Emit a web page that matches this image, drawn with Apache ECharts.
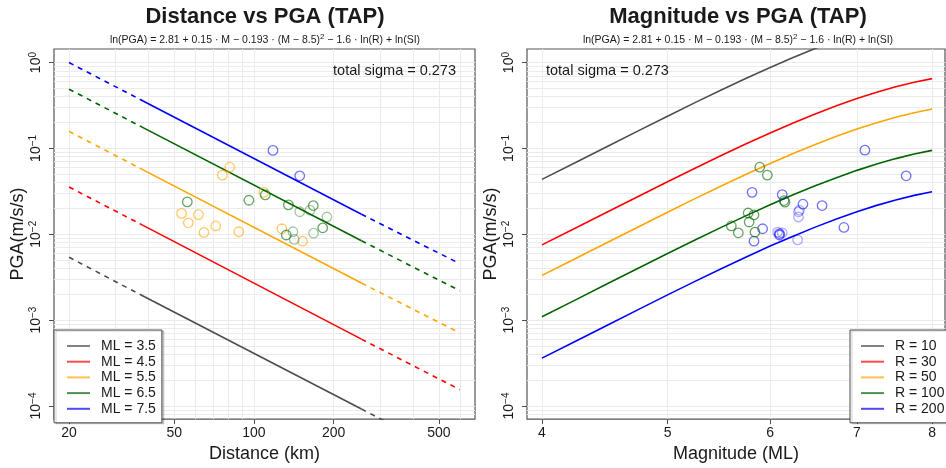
<!DOCTYPE html>
<html>
<head>
<meta charset="utf-8">
<script src="https://cdn.jsdelivr.net/npm/echarts@6/dist/echarts.min.js"></script>
<style>html,body{margin:0;background:#fff}#c{width:946px;height:468px}</style>
</head>
<body>
<div id="c"></div>
<script>
// --- left panel: PGA vs distance, one line per magnitude ---
const DIST_PTS = [20, 37, 255, 600] // dashed 20-37, solid 37-255, dashed 255-600
const ML_NAMES = ['ML = 3.5', 'ML = 4.5', 'ML = 5.5', 'ML = 6.5', 'ML = 7.5']
const PGA_ML35 = [0.0054, 0.0020, 0.000092, 0.0000236]
const PGA_ML45 = [0.0355, 0.0133, 0.00060, 0.000155]
const PGA_ML55 = [0.158, 0.059, 0.0027, 0.00071]
const PGA_ML65 = [0.49, 0.183, 0.0084, 0.0022]
const PGA_ML75 = [1.0, 0.374, 0.0171, 0.00455]

const OBS_ORANGE = [[81, 0.0604], [76, 0.0488], [109, 0.0308], [53.3, 0.0175], [61.7, 0.0169], [56.5, 0.0136],
  [71.7, 0.0125], [64.7, 0.0105], [87.7, 0.0107], [127.5, 0.0116], [152.7, 0.0083]]
const OBS_GREEN = [[56, 0.0238], [110.4, 0.0287], [135, 0.022], [167.6, 0.0216], [182, 0.0119], [132.5, 0.0098], [95.7, 0.0249]]
const OBS_GREEN_LT = [[149, 0.0183], [163, 0.0191], [188.7, 0.0159], [140.4, 0.0107], [168, 0.0103], [142, 0.0087]]
const OBS_BLUE = [[118, 0.0948], [149, 0.048]]

// --- right panel: PGA vs magnitude, one curve per distance ---
const MAG = [4, 4.25, 4.5, 4.75, 5, 5.25, 5.5, 5.75, 6, 6.25, 6.5, 6.75, 7, 7.25, 7.5, 7.75, 8]
const R_NAMES = ['R = 10', 'R = 30', 'R = 50', 'R = 100', 'R = 200']
const PGA_R10 = [0.0436, 0.069, 0.1067, 0.1611, 0.2374, 0.3413, 0.479, 0.656, 0.878, 1.146, 1.461, 1.817, 2.21, 2.62, 3.03, 3.42, 3.77]
const PGA_R30 = [0.00752, 0.0119, 0.01841, 0.02777, 0.0409, 0.0588, 0.0826, 0.1131, 0.1514, 0.1975, 0.2518, 0.3132, 0.3806, 0.4511, 0.522, 0.59, 0.65]
const PGA_R50 = [0.00332, 0.00526, 0.00813, 0.01226, 0.01808, 0.026, 0.0365, 0.05, 0.0669, 0.0873, 0.1113, 0.1384, 0.1681, 0.1993, 0.2306, 0.2605, 0.2874]
const PGA_R100 = [0.001095, 0.001734, 0.002684, 0.004049, 0.00596, 0.00857, 0.01203, 0.01649, 0.0221, 0.0288, 0.0367, 0.0456, 0.0555, 0.0657, 0.0761, 0.086, 0.0948]
const PGA_R200 = [0.000361, 0.000572, 0.000885, 0.001335, 0.001967, 0.002828, 0.00397, 0.00544, 0.00728, 0.0095, 0.01211, 0.01506, 0.0183, 0.0217, 0.0251, 0.0284, 0.0313]

const OBS_M_BLUE = [[7.10, 0.0955], [7.64, 0.048], [5.81, 0.0308], [6.13, 0.029], [6.36, 0.0224], [6.58, 0.0216],
  [6.84, 0.012], [5.92, 0.0116], [6.10, 0.0102], [6.10, 0.0098], [5.83, 0.0083]]
const OBS_M_BLUE_LT = [[6.32, 0.0191], [6.31, 0.0183], [6.31, 0.0159], [6.08, 0.0106], [6.13, 0.0104], [6.30, 0.0086]]
const OBS_M_GREEN = [[5.89, 0.0604], [5.97, 0.0488], [6.15, 0.0247], [6.16, 0.0237], [5.77, 0.0177], [5.83, 0.0168],
  [5.78, 0.0139], [5.60, 0.0125], [5.67, 0.0104], [5.84, 0.0106]]

// ticks / grid
const DIST_TICKS = [20, 50, 100, 200, 500]
const DIST_GRID = [20, 30, 40, 50, 60, 70, 80, 90, 100, 200, 300, 400, 500, 600]
const MAG_TICKS = [4, 5, 6, 7, 8]
const PGA_TICKS = [1e-4, 1e-3, 1e-2, 1e-1, 1]
const PGA_GRID = []
for (let k = -5; k <= 0; k++) for (let m = 1; m <= 9; m++) PGA_GRID.push(+(m * Math.pow(10, k)).toPrecision(3))

const COLORS = ['#4d4d4d', '#ff0000', '#ffa500', '#006400', '#0000ff']
const FONT = 'Liberation Sans, Arial, sans-serif'
const INK = '#1a1a1a'
const Y_MIN = 7.03e-5, Y_MAX = 1.439

const supFmt = (v) => '10{e|' + String(Math.round(Math.log10(v))).replace('-', '\u2212') + '}'

function mainX(grid, min, max, ticks, name) {
  return {
    type: 'log', gridIndex: grid, min, max, position: 'bottom',
    name, nameLocation: 'middle', nameGap: 21,
    nameTextStyle: { fontSize: 18, color: INK, fontFamily: FONT, verticalAlign: 'top' },
    axisLine: { show: false },
    axisTick: { show: true, length: 5, customValues: ticks, lineStyle: { color: '#4d4d4d' } },
    axisLabel: { customValues: ticks, fontSize: 14, color: INK, fontFamily: FONT, margin: 7, formatter: (v) => String(v) },
    splitLine: { show: false },
  }
}
function gridX(grid, min, max, vals) {
  return {
    type: 'log', gridIndex: grid, min, max, position: 'top',
    axisLine: { show: false }, axisLabel: { show: false },
    axisTick: { show: false, customValues: vals },
    splitLine: { show: true, lineStyle: { color: '#ebebeb', width: 1 } },
  }
}
function mainY(grid) {
  return {
    type: 'log', gridIndex: grid, min: Y_MIN, max: Y_MAX, position: 'left',
    name: 'PGA(m/s/s)', nameLocation: 'middle', nameGap: 25, nameRotate: 90,
    nameTextStyle: { fontSize: 18, color: INK, fontFamily: FONT },
    axisLine: { show: false },
    axisTick: { show: true, length: 5, customValues: PGA_TICKS, lineStyle: { color: '#4d4d4d' } },
    axisLabel: {
      customValues: PGA_TICKS, rotate: 90, margin: 9, fontSize: 14, color: INK, fontFamily: FONT,
      formatter: supFmt, rich: { e: { fontSize: 10, color: INK, fontFamily: FONT, padding: [0, 0, 7, 0] } },
    },
    splitLine: { show: false },
  }
}
function gridY(grid) {
  return {
    type: 'log', gridIndex: grid, min: Y_MIN, max: Y_MAX, position: 'right',
    axisLine: { show: false }, axisLabel: { show: false },
    axisTick: { show: false, customValues: PGA_GRID },
    splitLine: { show: true, lineStyle: { color: '#ebebeb', width: 1 } },
  }
}

const series = []
const mlVals = [PGA_ML35, PGA_ML45, PGA_ML55, PGA_ML65, PGA_ML75]
mlVals.forEach((v, i) => {
  const ls = { color: COLORS[i], width: 1.6 }
  const base = { type: 'line', xAxisIndex: 0, yAxisIndex: 0, showSymbol: false, silent: true, z: 3, color: COLORS[i] }
  series.push({ ...base, name: ML_NAMES[i], data: [[DIST_PTS[1], v[1]], [DIST_PTS[2], v[2]]], lineStyle: ls })
  series.push({ ...base, name: ML_NAMES[i] + ' a', data: [[DIST_PTS[0], v[0]], [DIST_PTS[1], v[1]]], lineStyle: { ...ls, type: [5, 5] } })
  series.push({ ...base, name: ML_NAMES[i] + ' b', data: [[DIST_PTS[2], v[2]], [DIST_PTS[3], v[3]]], lineStyle: { ...ls, type: [5, 5] } })
})
const rVals = [PGA_R10, PGA_R30, PGA_R50, PGA_R100, PGA_R200]
rVals.forEach((v, i) => {
  series.push({
    type: 'line', name: R_NAMES[i], xAxisIndex: 2, yAxisIndex: 2, showSymbol: false, silent: true, z: 3,
    color: COLORS[i], lineStyle: { color: COLORS[i], width: 1.6 }, data: MAG.map((m, j) => [m, v[j]]),
  })
})
const pts = (data, color, xi) => ({
  type: 'scatter', xAxisIndex: xi, yAxisIndex: xi, symbol: 'circle', symbolSize: 9.5, z: 4, silent: true, data,
  itemStyle: { color: 'rgba(0,0,0,0)', borderColor: color, borderWidth: 1.3 },
})
series.push(pts(OBS_ORANGE, 'rgba(255,165,0,0.75)', 0))
series.push(pts(OBS_GREEN_LT, 'rgba(0,100,0,0.45)', 0))
series.push(pts(OBS_GREEN, 'rgba(0,100,0,0.75)', 0))
series.push(pts(OBS_BLUE, 'rgba(0,0,255,0.7)', 0))
series.push(pts(OBS_M_BLUE_LT, 'rgba(0,0,255,0.4)', 2))
series.push(pts(OBS_M_BLUE, 'rgba(0,0,255,0.7)', 2))
series.push(pts(OBS_M_GREEN, 'rgba(0,100,0,0.75)', 2))

const legendBase = {
  orient: 'vertical', top: 330, icon: 'rect', itemWidth: 23, itemHeight: 2, itemGap: 1.7,
  backgroundColor: '#fff', borderColor: '#4d4d4d', borderWidth: 1,
  shadowColor: 'rgba(0,0,0,0.18)', shadowBlur: 0, shadowOffsetX: 2, shadowOffsetY: 1,
  textStyle: { fontSize: 14, color: INK, fontFamily: FONT, padding: [0, 0, 0, 6], lineHeight: 14 },
  itemStyle: { opacity: 0.7 }, selectedMode: false, z: 10,
}

const txt = (x, y, text, size, extra) => ({
  type: 'text', x, y, z: 20, silent: true,
  style: { text, fontSize: size, fontFamily: FONT, fill: INK, textAlign: 'center', textVerticalAlign: 'middle', ...extra },
})
const formula = 'ln(PGA) = 2.81 + 0.15 \u00b7 M \u2212 0.193 \u00b7 (M \u2212 8.5){s|2} \u2212 1.6 \u00b7 ln(R) + ln(SI)'
const fRich = { rich: { s: { fontSize: 8, fontFamily: FONT, fill: INK, padding: [0, 0, 6, 0] } } }

const chart = echarts.init(document.getElementById('c'), null, { renderer: 'canvas' })
chart.setOption({
  backgroundColor: '#fff',
  animation: false,
  textStyle: { fontFamily: FONT },
  grid: [
    { left: 54, top: 49, width: 421, height: 374, show: true, backgroundColor: '#fff', borderColor: '#555', borderWidth: 1.2 },
    { left: 527, top: 49, width: 418, height: 374, show: true, backgroundColor: '#fff', borderColor: '#555', borderWidth: 1.2 },
  ],
  xAxis: [
    mainX(0, 17.55, 685, DIST_TICKS, 'Distance (km)'),
    gridX(0, 17.55, 685, DIST_GRID),
    mainX(1, 3.895, 8.186, MAG_TICKS, 'Magnitude (ML)'),
    gridX(1, 3.895, 8.186, MAG_TICKS),
  ],
  yAxis: [mainY(0), gridY(0), mainY(1), gridY(1)],
  legend: [
    { ...legendBase, left: 54, padding: [9, 6, 7, 13], data: ML_NAMES },
    { ...legendBase, left: 850, padding: [9, 6, 7, 11], data: R_NAMES },
  ],
  graphic: [
    txt(265, 17, 'Distance vs PGA (TAP)', 22, { fontWeight: 'bold' }),
    txt(738, 17, 'Magnitude vs PGA (TAP)', 22, { fontWeight: 'bold' }),
    txt(265, 40, formula, 10.5, fRich),
    txt(738, 40, formula, 10.5, fRich),
    txt(456, 71, 'total sigma = 0.273', 14.5, { textAlign: 'right' }),
    txt(546, 71, 'total sigma = 0.273', 14.5, { textAlign: 'left' }),
  ],
  series,
})
</script>
</body>
</html>
